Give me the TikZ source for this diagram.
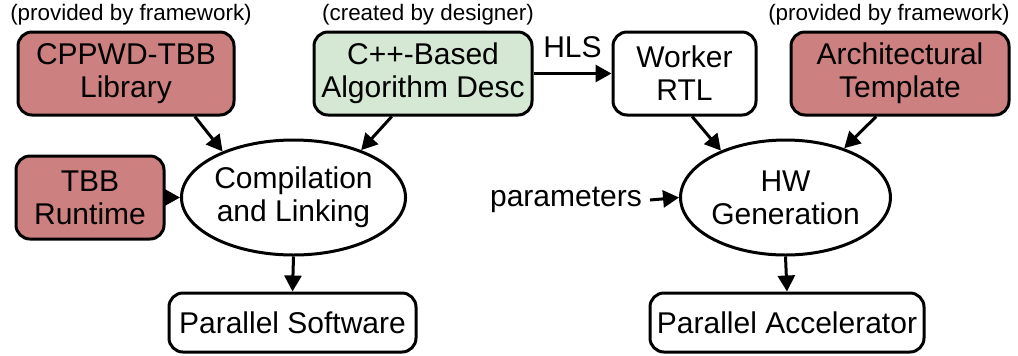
\documentclass[tikz,border=0pt]{standalone}
\usepackage{fontspec}
\setmainfont{Liberation Sans}
\usetikzlibrary{shapes.geometric,arrows.meta}
\definecolor{fwred}{RGB}{205,128,128}
\definecolor{dsgreen}{RGB}{213,232,212}

\begin{document}
\begin{tikzpicture}[x=0.5pt, y=-0.5pt, line width=1.5pt,
    >={Triangle[length=8pt,width=8.5pt]},
    blk/.style={draw, rounded corners=7pt, align=center, inner sep=0pt,
        minimum height=41.5pt, font=\fontsize{15}{16.5}\selectfont},
    outbox/.style={blk, minimum height=29.5pt},
    proc/.style={draw, ellipse, align=center, inner sep=0pt,
        minimum width=91.5pt, minimum height=57.5pt, font=\fontsize{15}{16.5}\selectfont},
    note/.style={font=\fontsize{11.2}{13}\selectfont}]
    \useasboundingbox (0,0) rectangle (1018,355);

    % Draw the input boxes
    \node[blk, fill=fwred, minimum width=108pt] (lib) at (126,73.5) {CPPWD-TBB\\Library};
    \node[blk, fill=dsgreen, minimum width=109pt] (algo) at (423,73.5) {C++-Based\\Algorithm Desc};
    \node[blk, minimum width=71.5pt] (worker) at (684.5,73.5) {Worker\\RTL};
    \node[blk, fill=fwred, minimum width=109pt] (arch) at (900,73.5) {Architectural\\Template};
    \node[blk, fill=fwred, minimum width=74pt] (runtime) at (90,197.5) {TBB\\Runtime};

    % Draw the notes above the boxes
    \node[note] (libnote) at (131,15) {(provided by framework)};
    \node[note] (algonote) at (428,15) {(created by designer)};
    \node[note] (archnote) at (889,15) {(provided by framework)};

    % Draw the two tool ellipses
    \node[proc] (comp) at (293.5,197.5) {Compilation\\and Linking};
    \node[proc, minimum width=92.5pt] (hw) at (785.5,197.5) {HW\\Generation};
    \node[font=\fontsize{15}{16.5}\selectfont] (params) at (566,200) {parameters};

    % Draw the outputs
    \node[outbox, minimum width=123.5pt] (sw) at (292.5,322.5) {Parallel Software};
    \node[outbox, minimum width=137pt] (acc) at (787,322.5) {Parallel Accelerator};

    % Software side
    \draw[->] (lib.-32) -- (comp.147);
    \draw[->] (algo.-126) -- (comp.35);
    \draw[->] (runtime.east) -- (comp.west);
    \draw[->] (comp.south) -- (sw.north);

    % Hardware side
    \draw[->] (algo.east) -- (worker.west) node[midway, above=4pt, font=\fontsize{15}{16.5}\selectfont] {HLS};
    \draw[->] (worker.-80) -- (hw.144);
    \draw[->] (arch.-119) -- (hw.40);
    \draw[->] (params.east) -- (hw.west);
    \draw[->] (hw.south) -- (acc.north);
\end{tikzpicture}
\end{document}
